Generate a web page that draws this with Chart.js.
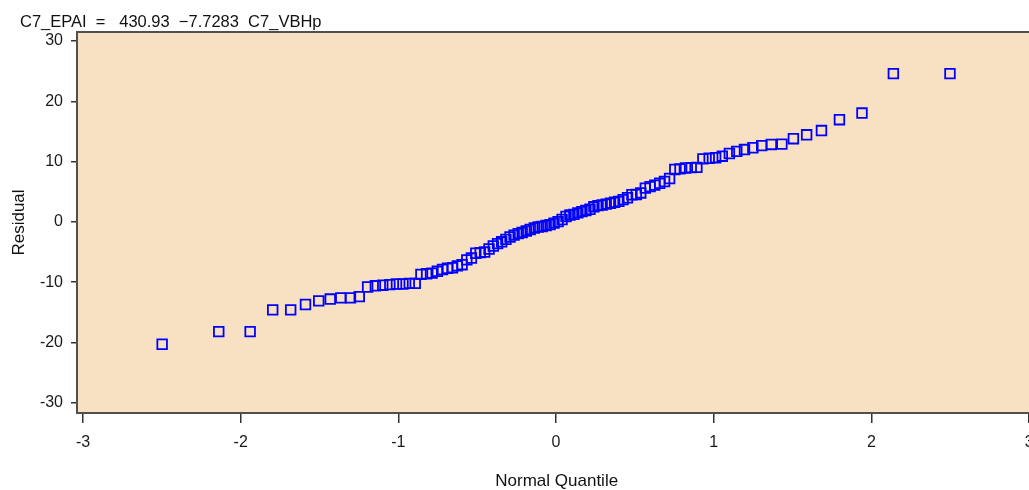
<!DOCTYPE html>
<html>
<head>
<meta charset="utf-8">
<title>Normal quantile plot of residuals</title>
<script src="https://cdn.jsdelivr.net/npm/chart.js@4.4.1/dist/chart.umd.min.js"></script>
<style>
  html, body { margin: 0; padding: 0; background: #ffffff; overflow: hidden; }
  #wrap { position: relative; width: 1045px; height: 490px; }
</style>
</head>
<body>
<div id="wrap"><canvas id="qq"></canvas></div>
<script>
// Normal quantile of each ordered residual (n = 100)
const normalQuantiles = [
  -2.498, -2.139, -1.940, -1.797, -1.683, -1.589, -1.505, -1.432, -1.365, -1.304,
  -1.248, -1.195, -1.146, -1.099, -1.054, -1.012, -0.971, -0.931, -0.893, -0.857,
  -0.821, -0.786, -0.753, -0.720, -0.688, -0.657, -0.626, -0.596, -0.566, -0.537,
  -0.509, -0.481, -0.453, -0.425, -0.398, -0.371, -0.345, -0.318, -0.292, -0.266,
  -0.240, -0.215, -0.189, -0.164, -0.138, -0.113, -0.088, -0.063, -0.038, -0.013,
   0.013,  0.038,  0.063,  0.088,  0.113,  0.138,  0.164,  0.189,  0.215,  0.240,
   0.266,  0.292,  0.318,  0.345,  0.371,  0.398,  0.425,  0.453,  0.481,  0.509,
   0.537,  0.566,  0.596,  0.626,  0.657,  0.688,  0.720,  0.753,  0.786,  0.821,
   0.857,  0.893,  0.931,  0.971,  1.012,  1.054,  1.099,  1.146,  1.195,  1.248,
   1.304,  1.365,  1.432,  1.505,  1.589,  1.683,  1.797,  1.940,  2.139,  2.498
];

// Ordered residuals of the fit
const residuals = [
  -20.3, -18.2, -18.2, -14.6, -14.6, -13.7, -13.1, -12.8, -12.6, -12.6,
  -12.4, -10.8, -10.6, -10.5, -10.4, -10.3, -10.3, -10.2, -10.2,  -8.7,
   -8.6,  -8.5,  -8.2,  -7.9,  -7.7,  -7.6,  -7.3,  -7.1,  -6.3,  -6.0,
   -5.2,  -5.1,  -5.0,  -4.5,  -4.0,  -3.6,  -3.3,  -2.9,  -2.5,  -2.2,
   -1.95, -1.75, -1.5,  -1.25, -1.0,  -0.85, -0.75, -0.6,  -0.45, -0.2,
    0.05,  0.4,   0.9,   1.15,  1.25,  1.5,   1.7,   1.9,   2.1,   2.5,
    2.7,   2.8,   2.95,  3.1,   3.25,  3.4,   3.7,   4.0,   4.5,   4.55,
    4.8,   5.6,   5.85,  6.1,   6.4,   6.7,   7.2,   8.7,   8.8,   8.95,
    9.0,   9.05, 10.45, 10.55, 10.65, 10.9,  11.35, 11.7,  12.0,  12.3,
   12.65, 12.85, 12.9,  13.8,  14.45, 15.15, 16.95, 18.05, 24.6,  24.6
];

const xTickValues = [-3, -2, -1, 0, 1, 2, 3];
const yTickValues = [-30, -20, -10, 0, 10, 20, 30];

const headerText = 'C7_EPAI  =   430.93  \u22127.7283  C7_VBHp';
const xTitle = 'Normal Quantile';
const yTitle = 'Residual';

const FONT = "'Liberation Sans', Arial, Helvetica, sans-serif";

// Plot panel fill and frame, plus the fitted-equation header
const panelPlugin = {
  id: 'panel',
  beforeDraw(chart) {
    const { ctx, chartArea: a } = chart;
    ctx.save();
    ctx.fillStyle = '#F8E0C2';
    ctx.fillRect(a.left, a.top, a.right - a.left, a.bottom - a.top);
    ctx.restore();
  },
  beforeDatasetsDraw(chart) {
    const { ctx, chartArea: a } = chart;
    ctx.save();
    ctx.strokeStyle = '#505050';
    ctx.lineWidth = 2;
    ctx.strokeRect(a.left, a.top, a.right - a.left, a.bottom - a.top);
    ctx.restore();
  },
  afterDraw(chart) {
    const { ctx } = chart;
    ctx.save();
    ctx.fillStyle = '#111111';
    ctx.font = '16.5px ' + FONT;
    ctx.textBaseline = 'alphabetic';
    ctx.textAlign = 'left';
    ctx.fillText(headerText, 20, 27);
    ctx.restore();
  }
};

new Chart(document.getElementById('qq'), {
  type: 'scatter',
  data: {
    datasets: [{
      data: normalQuantiles.map((q, i) => ({ x: q, y: residuals[i] })),
      pointStyle: 'rect',
      pointRadius: 6.8,
      pointHoverRadius: 6.8,
      pointBorderWidth: 1.8,
      borderColor: '#0000FF',
      backgroundColor: 'rgba(0,0,0,0)',
      showLine: false
    }]
  },
  options: {
    responsive: true,
    maintainAspectRatio: false,
    animation: false,
    layout: { padding: { top: 32, left: 0, right: 8, bottom: 0 } },
    plugins: {
      legend: { display: false },
      tooltip: { enabled: false },
      title: { display: false }
    },
    scales: {
      x: {
        type: 'linear',
        min: -3.038,
        max: 3.046,
        afterBuildTicks: s => { s.ticks = xTickValues.map(v => ({ value: v })); },
        afterFit: s => { s.height = 77; },
        grid: { display: true, drawOnChartArea: false, drawTicks: true, tickLength: 10, color: '#333333', lineWidth: 1.5 },
        border: { display: false },
        ticks: {
          color: '#1a1a1a',
          font: { family: FONT, size: 16 },
          padding: 10,
          maxRotation: 0,
          callback: v => String(v)
        },
        title: {
          display: true,
          text: xTitle,
          color: '#111111',
          font: { family: FONT, size: 17, lineHeight: 1.0 },
          padding: { top: 0, bottom: 0 }
        }
      },
      y: {
        type: 'linear',
        min: -31.7,
        max: 31.5,
        afterBuildTicks: s => { s.ticks = yTickValues.map(v => ({ value: v })); },
        afterFit: s => { s.width = 77; },
        grid: { display: true, drawOnChartArea: false, drawTicks: true, tickLength: 6, color: '#333333', lineWidth: 1.5 },
        border: { display: false },
        ticks: {
          color: '#1a1a1a',
          font: { family: FONT, size: 16 },
          padding: 8,
          callback: v => String(v)
        },
        title: {
          display: true,
          text: yTitle,
          color: '#111111',
          font: { family: FONT, size: 17 },
          padding: { top: 9, bottom: 0 }
        }
      }
    }
  },
  plugins: [panelPlugin]
});
</script>
</body>
</html>
